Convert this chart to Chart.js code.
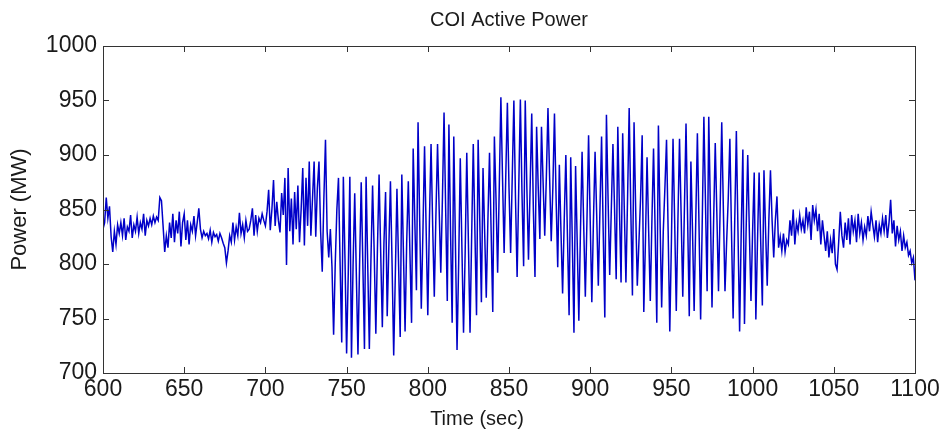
<!DOCTYPE html>
<html>
<head>
<meta charset="utf-8">
<script src="https://cdn.jsdelivr.net/npm/chart.js@4.4.1/dist/chart.umd.min.js"></script>
<style>
  html, body { margin: 0; padding: 0; background: #fff; }
  #chart { display: block; }
</style>
</head>
<body>
<canvas id="chart" width="941" height="442"></canvas>
<script>
// time axis: one sample per second from 600 s
const startTime = 600;
const sampleStep = 1;

const xTicks = [600, 650, 700, 750, 800, 850, 900, 950, 1000, 1050, 1100];
const yTicks = [700, 750, 800, 850, 900, 950, 1000];

// COI active power (MW), 10 values per row (600, 610, ... 1100)
const power = [
  832, 838, 861, 842, 853, 825, 811, 830, 818, 836,
  828, 838, 826, 842, 822, 834, 830, 845, 824, 836,
  830, 843, 828, 838, 832, 846, 826, 840, 835, 842,
  836, 844, 838, 843, 840, 861, 858, 835, 811, 826,
  815, 838, 824, 846, 820, 840, 828, 848, 816, 838,
  846, 822, 840, 818, 836, 830, 844, 826, 838, 851,
  832, 824, 830, 826, 828, 823, 831, 820, 829, 825,
  827, 821, 828, 824, 819, 815, 801, 812, 826, 820,
  838, 822, 834, 826, 847, 828, 836, 824, 840, 830,
  832, 840, 851, 826, 845, 830, 842, 838, 846, 840,
  835, 848, 868, 831, 850, 877, 835, 857, 840, 829,
  865, 845, 879, 799, 888, 830, 860, 818, 866, 832,
  872, 820, 850, 888, 817, 879, 835, 894, 826, 860,
  894, 825, 870, 894, 830, 793, 860, 914, 830, 806,
  832, 797, 735, 800, 850, 879, 800, 728, 880, 805,
  718, 790, 880, 714, 800, 865, 790, 717, 800, 875,
  800, 722, 880, 800, 722, 805, 872, 810, 736, 815,
  882, 810, 742, 820, 866, 752, 815, 876, 800, 716,
  790, 869, 800, 733, 882, 810, 738, 820, 876, 810,
  746, 906, 840, 776, 930, 840, 759, 830, 908, 830,
  753, 840, 910, 835, 770, 845, 910, 850, 792, 860,
  939, 850, 766, 928, 830, 746, 917, 820, 721, 800,
  897, 815, 737, 810, 902, 820, 737, 825, 910, 830,
  753, 914, 840, 765, 888, 830, 769, 840, 902, 830,
  756, 917, 860, 792, 870, 953, 880, 810, 880, 948,
  870, 810, 880, 950, 860, 788, 870, 951, 865, 798,
  950, 870, 804, 870, 938, 850, 788, 926, 870, 823,
  926, 875, 826, 880, 943, 880, 821, 870, 938, 860,
  797, 891, 830, 773, 840, 900, 825, 753, 898, 820,
  737, 890, 820, 748, 830, 903, 835, 770, 840, 918,
  840, 765, 840, 903, 845, 780, 850, 917, 830, 751,
  937, 860, 790, 850, 910, 850, 786, 926, 850, 783,
  920, 850, 783, 860, 943, 850, 771, 930, 850, 780,
  820, 860, 918, 756, 820, 898, 830, 766, 840, 906,
  830, 746, 927, 840, 760, 830, 870, 914, 830, 738,
  820, 915, 840, 757, 840, 915, 845, 770, 850, 929,
  840, 752, 894, 830, 757, 840, 920, 835, 749, 840,
  935, 855, 775, 935, 850, 760, 840, 911, 845, 775,
  850, 930, 850, 775, 820, 860, 915, 830, 750, 840,
  922, 830, 738, 830, 905, 745, 830, 900, 830, 766,
  830, 884, 749, 820, 884, 820, 762, 886, 830, 780,
  840, 886, 840, 806, 840, 862, 815, 825, 812, 828,
  811, 822, 818, 840, 826, 850, 818, 838, 830, 845,
  832, 840, 828, 852, 836, 848, 822, 854, 840, 850,
  830, 846, 818, 840, 826, 812, 830, 806, 822, 810,
  832, 800, 795, 820, 848, 826, 815, 838, 822, 842,
  818, 845, 830, 840, 820, 846, 828, 838, 822, 834,
  826, 844, 830, 848, 836, 825, 840, 820, 836, 828,
  842, 830, 845, 824, 838, 859, 828, 840, 816, 835,
  822, 830, 812, 826, 815, 820, 808, 812, 801, 806,
  785
];

const points = power.map((v, i) => ({ x: startTime + i * sampleStep, y: v }));

const fontFamily = "'Liberation Sans', Arial, Helvetica, sans-serif";
const textColor = "#1a1a1a";

// matlab style box with inward ticks on all four sides, plus the x label
const boxTicks = {
  id: "boxTicks",
  afterDraw(chart) {
    const { ctx, chartArea: a, scales } = chart;
    const len = 6;
    ctx.save();
    ctx.strokeStyle = "#333";
    ctx.lineWidth = 1;
    ctx.beginPath();
    scales.x.ticks.forEach((t) => {
      const px = Math.round(scales.x.getPixelForValue(t.value)) + 0.5;
      ctx.moveTo(px, a.bottom); ctx.lineTo(px, a.bottom - len);
      ctx.moveTo(px, a.top); ctx.lineTo(px, a.top + len);
    });
    scales.y.ticks.forEach((t) => {
      const py = Math.round(scales.y.getPixelForValue(t.value)) + 0.5;
      ctx.moveTo(a.left, py); ctx.lineTo(a.left + len, py);
      ctx.moveTo(a.right, py); ctx.lineTo(a.right - len, py);
    });
    ctx.stroke();
    ctx.strokeRect(Math.round(a.left) + 0.5, Math.round(a.top) + 0.5,
      Math.round(a.right - a.left), Math.round(a.bottom - a.top));

    // x axis label sits a bit left of centre in the original
    ctx.fillStyle = textColor;
    ctx.font = "20px " + fontFamily;
    ctx.textAlign = "center";
    ctx.textBaseline = "middle";
    ctx.fillText("Time (sec)", 477, 419);
    ctx.restore();
  }
};

new Chart(document.getElementById("chart"), {
  type: "line",
  data: {
    datasets: [{
      data: points,
      borderColor: "#0000c8",
      borderWidth: 1.5,
      pointRadius: 0,
      tension: 0,
      fill: false
    }]
  },
  options: {
    responsive: false,
    animation: false,
    devicePixelRatio: 1,
    layout: { padding: { top: 0, right: 26, left: 0, bottom: 0 } },
    plugins: {
      legend: { display: false },
      tooltip: { enabled: false },
      title: {
        display: true,
        text: "COI Active Power",
        fullSize: false,
        color: textColor,
        font: { family: fontFamily, size: 20, weight: "normal" },
        padding: { top: 8, bottom: 14 }
      }
    },
    scales: {
      x: {
        type: "linear",
        min: 600,
        max: 1100,
        afterBuildTicks: (s) => { s.ticks = xTicks.map((v) => ({ value: v })); },
        afterFit: (s) => { s.height = 69; s.paddingLeft = 0; s.paddingRight = 0; },
        grid: { display: false, drawTicks: false },
        border: { display: false },
        ticks: {
          color: textColor,
          padding: 3,
          maxRotation: 0,
          font: { family: fontFamily, size: 23 },
          callback: (v) => String(v)
        }
      },
      y: {
        min: 700,
        max: 1000,
        afterBuildTicks: (s) => { s.ticks = yTicks.map((v) => ({ value: v })); },
        afterFit: (s) => { s.width = 103; },
        grid: { display: false, drawTicks: false },
        border: { display: false },
        ticks: {
          color: textColor,
          padding: 6,
          font: { family: fontFamily, size: 23 },
          callback: (v) => String(v)
        },
        title: {
          display: true,
          text: "Power (MW)",
          color: textColor,
          font: { family: fontFamily, size: 22 },
          padding: { top: 7, bottom: 0 }
        }
      }
    }
  },
  plugins: [boxTicks]
});
</script>
</body>
</html>
